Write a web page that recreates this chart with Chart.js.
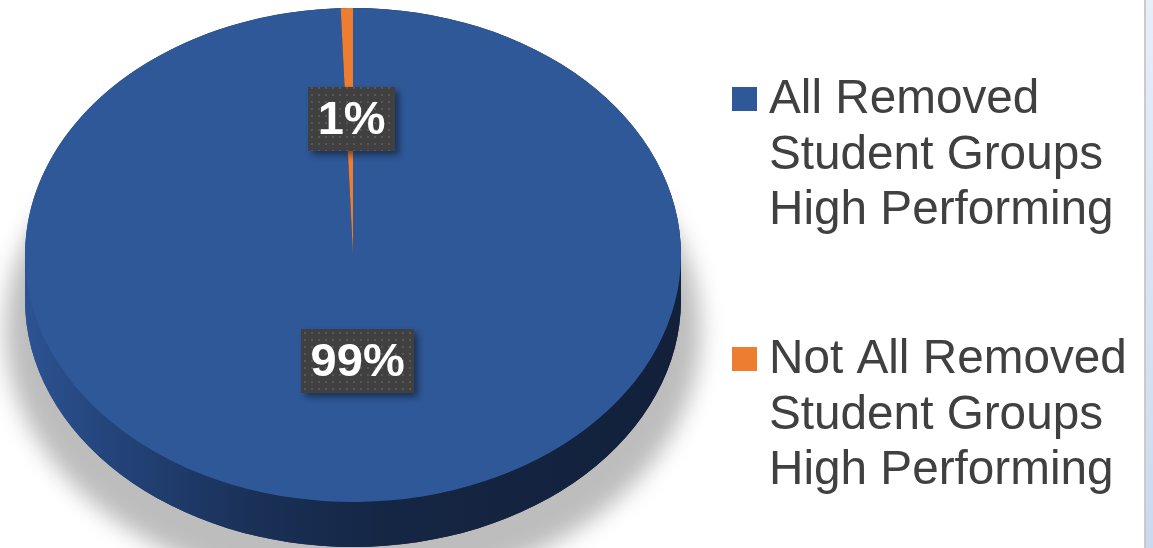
<!DOCTYPE html>
<html>
<head>
<meta charset="utf-8">
<script src="https://cdn.jsdelivr.net/npm/chart.js@4.4.1/dist/chart.umd.min.js"></script>
<style>
  html, body { margin: 0; padding: 0; background: #ffffff; }
  #wrap { position: relative; width: 1153px; height: 548px; overflow: hidden; }
  #c { position: absolute; left: 0; top: 0; }
  #edgeLine { position: absolute; left: 1144px; top: 0; width: 2px; height: 548px; background: #cbcbcb; }
  #edgeBlue { position: absolute; left: 1146px; top: 0; width: 7px; height: 548px; background: linear-gradient(to bottom, #e6eef8, #c9daef); }
</style>
</head>
<body>
<div id="wrap">
  <canvas id="c" width="1153" height="548"></canvas>
  <div id="edgeLine"></div>
  <div id="edgeBlue"></div>
</div>
<script>
// ---- data ----
const categories = [
  ["All Removed", "Student Groups", "High Performing"],
  ["Not All Removed", "Student Groups", "High Performing"]
];
const values = [99.4, 0.6];
const valueLabels = ["99%", "1%"];
const colors = ["#2F5899", "#ED7D31"];

// ---- geometry of the tilted pie (screen space) ----
const PIE = { cx: 353, cy: 255, rx: 328, ry: 247, depth: 45 };

function pieTransform(chart) {
  const meta = chart.getDatasetMeta(0);
  const arc = meta.data[0];
  const cx0 = arc.x, cy0 = arc.y, r0 = arc.outerRadius;
  return { cx0, cy0, r0, sx: PIE.rx / r0, sy: PIE.ry / r0 };
}

function makeDotPattern(ctx) {
  const p = document.createElement('canvas');
  p.width = 7; p.height = 7;
  const pc = p.getContext('2d');
  pc.fillStyle = '#404040';
  pc.fillRect(0, 0, 7, 7);
  pc.fillStyle = '#575757';
  pc.fillRect(3, 3, 2, 2);
  return ctx.createPattern(p, 'repeat');
}

const pie3d = {
  id: 'pie3d',
  beforeDatasetsDraw(chart) {
    const ctx = chart.ctx;
    const t = pieTransform(chart);
    // soft ground shadow
    ctx.save();
    ctx.filter = 'blur(11px)';
    ctx.fillStyle = 'rgba(0,0,0,0.26)';
    ctx.beginPath();
    ctx.ellipse(PIE.cx, PIE.cy + 75, PIE.rx + 20, PIE.ry + 14, 0, 0, Math.PI * 2);
    ctx.fill();
    ctx.restore();

    ctx.save();
    ctx.translate(PIE.cx, PIE.cy);
    ctx.scale(t.sx, t.sy);
    ctx.translate(-t.cx0, -t.cy0);
    const d = PIE.depth / t.sy;
    const g = ctx.createLinearGradient(t.cx0 - t.r0, 0, t.cx0 + t.r0, 0);
    g.addColorStop(0, '#2d5392');
    g.addColorStop(0.12, '#24457c');
    g.addColorStop(0.35, '#1a3057');
    g.addColorStop(0.55, '#152644');
    g.addColorStop(1, '#12203a');
    ctx.beginPath();
    ctx.arc(t.cx0, t.cy0, t.r0, Math.PI, 0, false);
    ctx.arc(t.cx0, t.cy0 + d, t.r0, 0, Math.PI, false);
    ctx.closePath();
    ctx.fillStyle = g;
    ctx.fill();
    const meta = chart.getDatasetMeta(0);
    meta.data.forEach((el, i) => {
      const s = el.startAngle, e = el.endAngle;
      const ranges = [[0, Math.PI], [2 * Math.PI, 3 * Math.PI], [-2 * Math.PI, -Math.PI]];
      ranges.forEach(([a, b]) => {
        const s2 = Math.max(s, a), e2 = Math.min(e, b);
        if (e2 > s2) {
          ctx.beginPath();
          ctx.arc(t.cx0, t.cy0, t.r0, s2, e2, false);
          ctx.arc(t.cx0, t.cy0 + d, t.r0, e2, s2, true);
          ctx.closePath();
          ctx.fillStyle = i === 0 ? g : '#8a4416';
          ctx.fill();
        }
      });
    });
  },
  afterDatasetsDraw(chart) {
    const ctx = chart.ctx;
    ctx.restore();
    const t = pieTransform(chart);
    const meta = chart.getDatasetMeta(0);
    const pattern = makeDotPattern(ctx);
    ctx.font = 'bold 47px "Liberation Sans", Arial, sans-serif';
    ctx.textAlign = 'center';
    ctx.textBaseline = 'middle';
    meta.data.forEach((el, i) => {
      const a = (el.startAngle + el.endAngle) / 2;
      const f = 0.49 - 0.06 * Math.sin(a);
      const px = t.cx0 + f * t.r0 * Math.cos(a);
      const py = t.cy0 + f * t.r0 * Math.sin(a);
      const X = PIE.cx + (px - t.cx0) * t.sx;
      const Y = PIE.cy + (py - t.cy0) * t.sy;
      const txt = valueLabels[i];
      const w = ctx.measureText(txt).width + 19;
      const h = 64;
      ctx.save();
      ctx.shadowColor = 'rgba(0,0,0,0.45)';
      ctx.shadowBlur = 7;
      ctx.shadowOffsetX = 4;
      ctx.shadowOffsetY = 4;
      ctx.fillStyle = pattern;
      ctx.fillRect(Math.round(X - w / 2 + 2), Math.round(Y - h / 2), Math.round(w), h);
      ctx.restore();
      ctx.fillStyle = '#ffffff';
      ctx.fillText(txt, X + 2, Y + 2);
    });
  },
  afterDraw(chart) {
    const ctx = chart.ctx;
    ctx.save();
    ctx.font = '47.7px "Liberation Sans", Arial, sans-serif';
    ctx.textAlign = 'left';
    ctx.textBaseline = 'alphabetic';
    const firstBase = [113, 373];
    categories.forEach((lines, i) => {
      ctx.fillStyle = colors[i];
      ctx.fillRect(732, firstBase[i] - 26, 25, 24);
      ctx.fillStyle = '#404040';
      lines.forEach((ln, j) => {
        ctx.fillText(ln, 769, firstBase[i] + j * 55.5);
      });
    });
    ctx.restore();
  }
};

new Chart(document.getElementById('c'), {
  type: 'pie',
  data: {
    labels: categories,
    datasets: [{
      data: values,
      backgroundColor: colors,
      borderWidth: 0,
      clip: false
    }]
  },
  options: {
    responsive: false,
    animation: false,
    events: [],
    layout: { padding: { left: 20, right: 600, top: 10, bottom: 10 } },
    plugins: {
      legend: { display: false },
      tooltip: { enabled: false }
    }
  },
  plugins: [pie3d]
});
</script>
</body>
</html>
